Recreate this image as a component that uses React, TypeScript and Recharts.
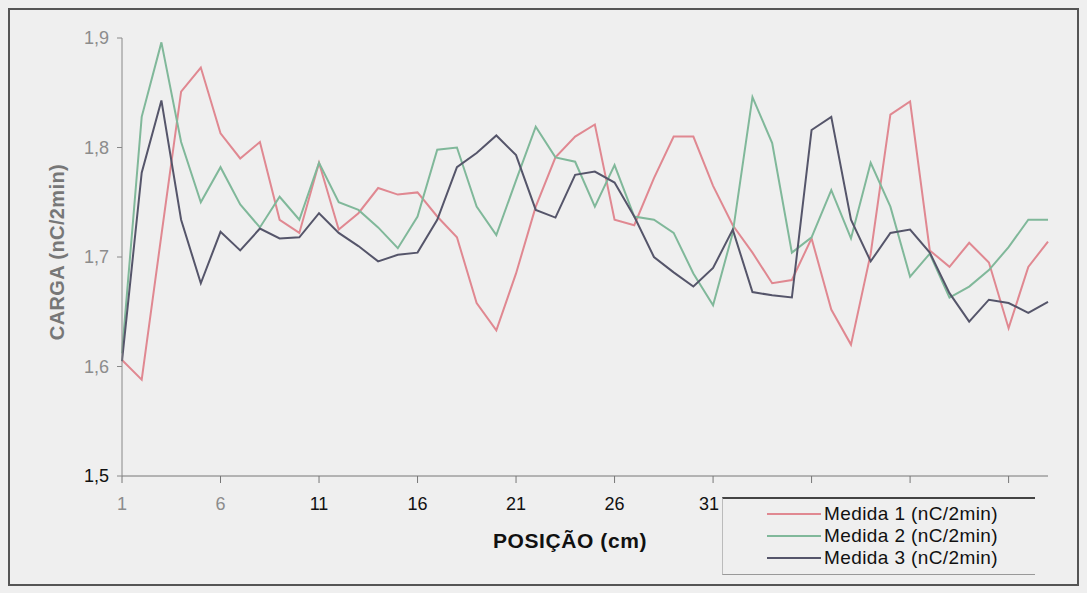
import { LineChart, Line, XAxis, YAxis } from 'recharts';

const posicoes = [
    1, 2, 3, 4, 5, 6, 7, 8, 9, 10, 11, 12, 13, 14, 15, 16, 17, 18, 19, 20, 21, 22, 23, 24,
    25, 26, 27, 28, 29, 30, 31, 32, 33, 34, 35, 36, 37, 38, 39, 40, 41, 42, 43, 44, 45, 46, 47, 48,
];

const medida1 = [
    1.606, 1.588, 1.72, 1.851, 1.873, 1.813, 1.79, 1.805, 1.734, 1.722, 1.786, 1.725,
    1.74, 1.763, 1.757, 1.759, 1.737, 1.718, 1.658, 1.633, 1.685, 1.746, 1.791, 1.81,
    1.821, 1.734, 1.729, 1.772, 1.81, 1.81, 1.765, 1.729, 1.704, 1.676, 1.679, 1.717,
    1.652, 1.62, 1.703, 1.83, 1.842, 1.706, 1.691, 1.713, 1.695, 1.635, 1.691, 1.714,
];

const medida2 = [
    1.612, 1.828, 1.896, 1.805, 1.75, 1.782, 1.748, 1.727, 1.755, 1.734, 1.786, 1.75,
    1.743, 1.727, 1.708, 1.737, 1.798, 1.8, 1.746, 1.72, 1.77, 1.819, 1.791, 1.787,
    1.746, 1.784, 1.737, 1.734, 1.722, 1.685, 1.656, 1.722, 1.846, 1.804, 1.704, 1.718,
    1.761, 1.717, 1.786, 1.746, 1.682, 1.703, 1.663, 1.673, 1.688, 1.709, 1.734, 1.734,
];

const medida3 = [
    1.605, 1.777, 1.843, 1.734, 1.676, 1.723, 1.706, 1.726, 1.717, 1.718, 1.74, 1.722,
    1.71, 1.696, 1.702, 1.704, 1.734, 1.782, 1.795, 1.811, 1.793, 1.743, 1.736, 1.775,
    1.778, 1.768, 1.737, 1.7, 1.686, 1.673, 1.69, 1.725, 1.668, 1.665, 1.663, 1.816,
    1.828, 1.734, 1.696, 1.722, 1.725, 1.704, 1.667, 1.641, 1.661, 1.658, 1.649, 1.659,
];

const ticksY = [1.5, 1.6, 1.7, 1.8, 1.9];
const ticksX = [1, 6, 11, 16, 21, 26, 31, 36, 41, 46];
// no original os rótulos 36, 41 e 46 ficam escondidos atrás da legenda
const rotulosX = [1, 6, 11, 16, 21, 26, 31];
const nomesSeries = ['Medida 1 (nC/2min)', 'Medida 2 (nC/2min)', 'Medida 3 (nC/2min)'];
const cores = ['#e08891', '#80b89a', '#55556a'];

const data = posicoes.map((pos, i) => ({
    pos,
    m1: medida1[i],
    m2: medida2[i],
    m3: medida3[i],
}));

const FONTE = '"Liberation Sans", Arial, sans-serif';
const FUNDO = '#efefef';

const TickY = ({ x, y, payload }: any) => (
    <text
        x={x - 4}
        y={y}
        dy={6}
        textAnchor="end"
        fontSize={18}
        fontFamily={FONTE}
        fill={payload.value === 1.5 ? '#111' : '#8c8c8c'}
    >
        {payload.value.toFixed(1).replace('.', ',')}
    </text>
);

const TickX = ({ x, y, payload }: any) => {
    if (!rotulosX.includes(payload.value)) return <g />;
    return (
        <text
            x={payload.value === 31 ? x - 4 : x}
            y={y}
            dy={23}
            textAnchor="middle"
            fontSize={18}
            fontFamily={FONTE}
            fill={payload.value < 11 ? '#8c8c8c' : '#111'}
        >
            {payload.value}
        </text>
    );
};

export default function App() {
    return (
        <div style={{ position: 'relative', width: 1071, height: 578, background: FUNDO, fontFamily: FONTE }}>
            <style>{`body{background:${FUNDO}}`}</style>
            <LineChart width={1071} height={578} data={data} margin={{ top: 30, right: 31, left: 0, bottom: 0 }}>
                <XAxis
                    dataKey="pos"
                    type="number"
                    domain={[1, 48]}
                    ticks={ticksX}
                    height={110}
                    tickSize={7}
                    tickMargin={4}
                    stroke="#777"
                    tick={<TickX />}
                    label={{
                        content: () => (
                            <text
                                x={562}
                                y={540}
                                textAnchor="middle"
                                fontSize={21}
                                letterSpacing={0.6}
                                fontWeight="bold"
                                fontFamily={FONTE}
                                fill="#111"
                            >
                                POSIÇÃO (cm)
                            </text>
                        ),
                    }}
                />
                <YAxis
                    domain={[1.5, 1.9]}
                    ticks={ticksY}
                    width={114}
                    tickSize={5}
                    tickMargin={4}
                    stroke="#888"
                    tick={<TickY />}
                    label={{
                        content: () => (
                            <text
                                x={56}
                                y={244}
                                transform="rotate(-90 56 244)"
                                textAnchor="middle"
                                fontSize={20}
                                letterSpacing={0.4}
                                fontWeight="bold"
                                fontFamily={FONTE}
                                fill="#777"
                            >
                                CARGA (nC/2min)
                            </text>
                        ),
                    }}
                />
                <Line type="linear" dataKey="m1" stroke={cores[0]} strokeWidth={2} dot={false} isAnimationActive={false} />
                <Line type="linear" dataKey="m2" stroke={cores[1]} strokeWidth={2} dot={false} isAnimationActive={false} />
                <Line type="linear" dataKey="m3" stroke={cores[2]} strokeWidth={2} dot={false} isAnimationActive={false} />
            </LineChart>

            {/* legenda sobreposta ao eixo, como no original */}
            <div
                style={{
                    position: 'absolute',
                    left: 714,
                    top: 489,
                    width: 313,
                    height: 78,
                    background: FUNDO,
                    borderTop: '2px solid #444',
                    borderLeft: '1px solid #bbb',
                    borderBottom: '1px solid #999',
                    boxSizing: 'border-box',
                }}
            >
                {nomesSeries.map((nome, i) => (
                    <div
                        key={nome}
                        style={{ position: 'absolute', left: 44, top: 4 + i * 22, display: 'flex', alignItems: 'center', height: 22 }}
                    >
                        <div style={{ width: 54, height: 2, background: cores[i], marginRight: 3 }} />
                        <span style={{ fontSize: 19, letterSpacing: 0.4, color: '#111', whiteSpace: 'nowrap' }}>{nome}</span>
                    </div>
                ))}
            </div>

            <div
                style={{
                    position: 'absolute',
                    inset: 0,
                    border: '2px solid #555',
                    pointerEvents: 'none',
                }}
            />
        </div>
    );
}
